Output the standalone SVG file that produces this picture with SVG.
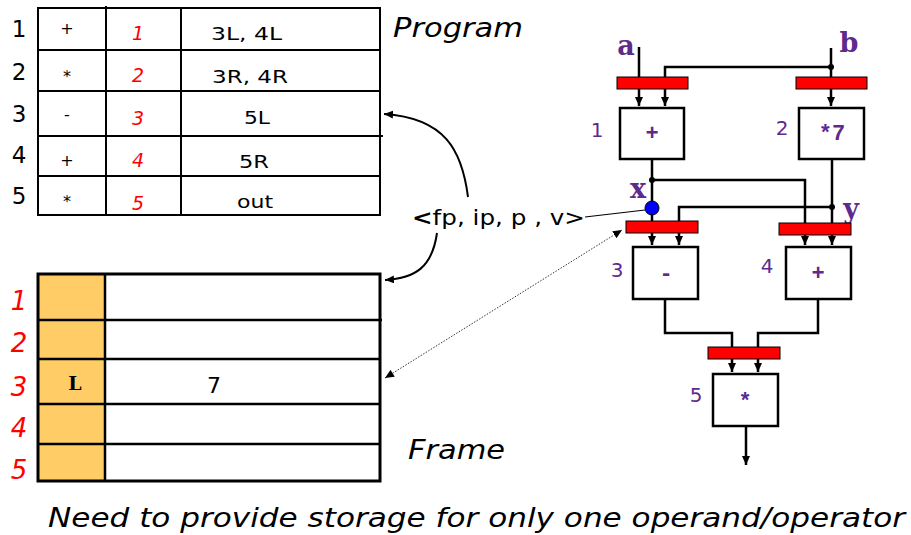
<svg xmlns="http://www.w3.org/2000/svg" width="911" height="535" viewBox="0 0 911 535">
  <defs>
    <marker id="tip" markerUnits="userSpaceOnUse" markerWidth="10" markerHeight="9" refX="9" refY="4" orient="auto">
      <path d="M0,0 L9,4 L0,8 z" fill="#000"/>
    </marker>
    <marker id="tipStart" markerUnits="userSpaceOnUse" markerWidth="10" markerHeight="9" refX="0" refY="4" orient="auto">
      <path d="M9,0 L0,4 L9,8 z" fill="#000"/>
    </marker>
    <style>
      .sans { font-family: "DejaVu Sans", Verdana, sans-serif; }
      .num { font-family: "DejaVu Sans", Verdana, sans-serif; font-size: 23px; fill: #000; text-anchor: middle; }
      .op { font-family: "DejaVu Sans", Verdana, sans-serif; font-size: 16px; fill: #000; text-anchor: middle; }
      .red { font-family: "DejaVu Sans", Verdana, sans-serif; font-style: italic; fill: #ff0000; text-anchor: middle; }
      .cell { font-family: "DejaVu Sans", Verdana, sans-serif; font-size: 18px; fill: #000; }
      .title { font-family: "DejaVu Sans", Verdana, sans-serif; font-style: italic; font-size: 26px; fill: #000; }
      .grid { stroke: #000; stroke-width: 2; fill: none; }
      .wire { stroke: #000; stroke-width: 2.5; fill: none; }
      .bar { fill: #ff0000; stroke: #000; stroke-width: 1; }
      .box { fill: #fff; stroke: #000; stroke-width: 2.5; }
      .mono { font-family: "Liberation Mono", "Courier New", monospace; font-weight: bold; fill: #5e2a8c; text-anchor: middle; }
      .var { font-family: "DejaVu Serif", "Liberation Serif", serif; font-weight: bold; fill: #5e2a8c; text-anchor: middle; }
      .lbl { font-family: "DejaVu Sans", Verdana, sans-serif; font-size: 20px; fill: #5e2a8c; text-anchor: middle; }
      .dot { fill: #000; }
    </style>
  </defs>

  <!-- Program table -->
  <g id="program">
    <rect x="38" y="8" width="342" height="207" class="grid"/>
    <path class="grid" d="M106,6 V215 M181,8 V215 M38,50 H380 M38,91 H381 M38,136 H383 M38,176 H380"/>
    <text class="num" x="19" y="37">1</text>
    <text class="num" x="19" y="80">2</text>
    <text class="num" x="19" y="122">3</text>
    <text class="num" x="19" y="163">4</text>
    <text class="num" x="19" y="204">5</text>
    <text class="op" x="67" y="34">+</text>
    <text class="op" x="67" y="82">*</text>
    <text class="op" x="67" y="120">-</text>
    <text class="op" x="67" y="166">+</text>
    <text class="op" x="67" y="207">*</text>
    <text class="red" font-size="19" x="138" y="40">1</text>
    <text class="red" font-size="19" x="138" y="82">2</text>
    <text class="red" font-size="19" x="138" y="125">3</text>
    <text class="red" font-size="19" x="138" y="167">4</text>
    <text class="red" font-size="19" x="138" y="210">5</text>
    <text class="cell" x="211" y="40" textLength="71" lengthAdjust="spacingAndGlyphs">3L, 4L</text>
    <text class="cell" x="212" y="83" textLength="76" lengthAdjust="spacingAndGlyphs">3R, 4R</text>
    <text class="cell" x="244" y="124" textLength="26" lengthAdjust="spacingAndGlyphs">5L</text>
    <text class="cell" x="239" y="168" textLength="30" lengthAdjust="spacingAndGlyphs">5R</text>
    <text class="cell" x="237" y="208" textLength="36" lengthAdjust="spacingAndGlyphs">out</text>
    <text class="title" x="393" y="37" textLength="130" lengthAdjust="spacingAndGlyphs">Program</text>
  </g>

  <!-- Frame table -->
  <g id="frame">
    <rect x="38" y="274" width="67" height="207" fill="#ffcc66"/>
    <rect x="38" y="274" width="342" height="207" fill="none" stroke="#000" stroke-width="3"/>
    <path class="wire" d="M105,274 V481 M38,320 H382 M38,359 H380 M38,404 H380 M38,444 H380"/>
    <text class="red" font-size="26" x="19" y="310">1</text>
    <text class="red" font-size="26" x="19" y="352">2</text>
    <text class="red" font-size="26" x="19" y="396">3</text>
    <text class="red" font-size="26" x="19" y="437">4</text>
    <text class="red" font-size="26" x="19" y="479">5</text>
    <text class="var" style="fill:#000" font-size="19" x="75" y="390">L</text>
    <text class="sans" font-size="22" x="214" y="393" text-anchor="middle">7</text>
    <text class="title" x="408" y="459" textLength="97" lengthAdjust="spacingAndGlyphs">Frame</text>
  </g>

  <!-- Connectors -->
  <g id="connectors">
    <path class="wire" marker-end="url(#tip)" d="M639,47 V106"/>
    <path class="wire" marker-end="url(#tip)" d="M831,48 V106"/>
    <path class="wire" marker-end="url(#tip)" d="M831,67 H665 V106"/>
    <path class="wire" marker-end="url(#tip)" d="M652,159 V245"/>
    <path class="wire" marker-end="url(#tip)" d="M652,180 H805 V245"/>
    <path class="wire" marker-end="url(#tip)" d="M832,159 V245"/>
    <path class="wire" marker-end="url(#tip)" d="M832,207 H679 V245"/>
    <path class="wire" marker-end="url(#tip)" d="M665,299 V333 H732 V372"/>
    <path class="wire" marker-end="url(#tip)" d="M818,299 V333 H758 V372"/>
    <path class="wire" marker-end="url(#tip)" d="M746,426 V465"/>
    <circle class="dot" cx="831" cy="67" r="3"/>
    <circle class="dot" cx="652" cy="180" r="3"/>
    <circle class="dot" cx="832" cy="207" r="3"/>
    <!-- pointer tuple links -->
    <path stroke="#000" stroke-width="2" fill="none" marker-end="url(#tip)" d="M468,197 C462,150 445,118 384,114"/>
    <path stroke="#000" stroke-width="2" fill="none" marker-end="url(#tip)" d="M437,233 C432,268 415,278 385,280"/>
    <path stroke="#333" stroke-width="1" stroke-dasharray="1.5,1.5" fill="none" marker-start="url(#tipStart)" marker-end="url(#tip)" d="M385,378 L622,230"/>
    <path stroke="#000" stroke-width="1.2" fill="none" d="M585,217 L645,210"/>
  </g>

  <text class="sans" font-size="22" x="412" y="225" textLength="173" lengthAdjust="spacingAndGlyphs"><tspan font-weight="bold">&lt;</tspan>fp, ip, p , v&gt;</text>

  <!-- Dataflow nodes -->
  <g id="inputs">
    <text class="var" font-size="27" x="626" y="55">a</text>
    <text class="var" font-size="27" x="849" y="52">b</text>
    <text class="var" font-size="27" x="638" y="198">x</text>
    <text class="var" font-size="27" x="851" y="218">y</text>
  </g>

  <g id="node1">
    <rect class="bar" x="617" y="77" width="71" height="12"/>
    <rect class="box" x="620" y="108" width="64" height="51"/>
    <text class="mono" font-size="22" x="652" y="140">+</text>
    <text class="lbl" x="597" y="137">1</text>
  </g>

  <g id="node2">
    <rect class="bar" x="796" y="77" width="71" height="12"/>
    <rect class="box" x="799" y="108" width="65" height="51"/>
    <text class="mono" font-size="22" x="832" y="140">*7</text>
    <text class="lbl" x="782" y="135">2</text>
  </g>

  <g id="node3">
    <rect class="bar" x="626" y="221" width="72" height="12"/>
    <rect class="box" x="633" y="247" width="65" height="52"/>
    <text class="mono" font-size="22" x="666" y="280">-</text>
    <text class="lbl" font-size="21" x="617" y="277">3</text>
  </g>

  <g id="node4">
    <rect class="bar" x="779" y="223" width="72" height="12"/>
    <rect class="box" x="786" y="247" width="65" height="52"/>
    <text class="mono" font-size="22" x="818" y="280">+</text>
    <text class="lbl" x="767" y="273">4</text>
  </g>

  <g id="node5">
    <rect class="bar" x="708" y="347" width="72" height="12"/>
    <rect class="box" x="713" y="374" width="65" height="52"/>
    <text class="mono" font-size="22" x="745" y="408">*</text>
    <text class="lbl" x="696" y="402">5</text>
  </g>

  <g id="xvalue">
    <circle cx="652" cy="208" r="7" fill="#0000ff" stroke="#000" stroke-width="1"/>
  </g>

  <text class="title" x="48" y="527" textLength="857" lengthAdjust="spacingAndGlyphs">Need to provide storage for only one operand/operator</text>
</svg>
